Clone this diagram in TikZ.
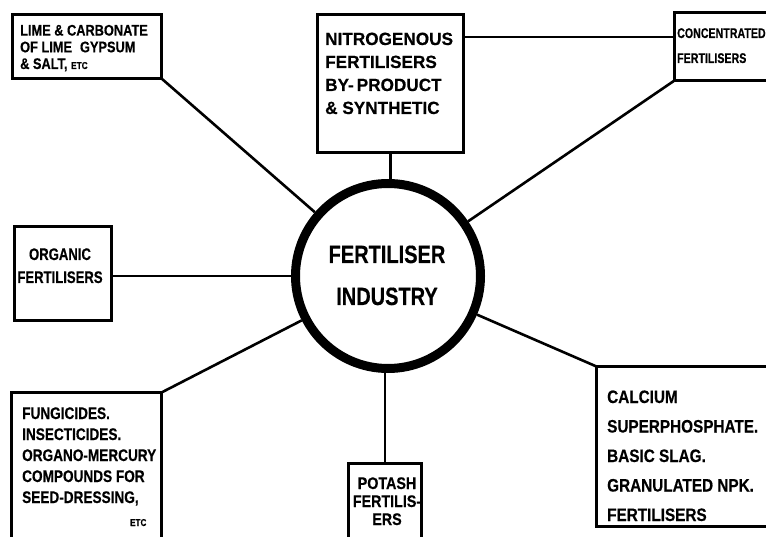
\documentclass[tikz,border=0pt]{standalone}
\usepackage{fontspec}
\setmainfont{Liberation Sans}
\newfontfamily\fa[FakeStretch=0.83,FakeBold=0.4]{Liberation Sans}
\newfontfamily\fb[FakeStretch=0.97,FakeBold=0.4]{Liberation Sans}
\newfontfamily\fc[FakeStretch=0.76,FakeBold=0.4]{Liberation Sans}
\newfontfamily\fd[FakeStretch=0.78,FakeBold=0.4]{Liberation Sans}
\newfontfamily\fe[FakeStretch=0.85,FakeBold=0.4]{Liberation Sans}
\newfontfamily\fg[FakeStretch=0.81,FakeBold=0.4]{Liberation Sans}
\newfontfamily\ff[FakeStretch=0.8,FakeBold=0.4]{Liberation Sans}
\begin{document}
\begin{tikzpicture}[x=1pt,y=-1pt,
  box/.style={draw,line width=3pt,inner sep=0pt,outer sep=0pt},
  link/.style={line width=2.6pt},
  lab/.style={inner sep=0pt,align=left,anchor=base west},
  clab/.style={inner sep=0pt,align=center,anchor=base}]
\useasboundingbox (0,0) rectangle (766,537);
\clip (0,0) rectangle (766,537);
% boxes
\node[box,minimum width=149pt,minimum height=64pt] (lime) at (87,46.5) {};
\node[box,minimum width=146pt,minimum height=138pt] (nitro) at (390.5,83.5) {};
\node[box,minimum width=104pt,minimum height=68pt] (conc) at (726.5,46.5) {};
\node[box,minimum width=97pt,minimum height=94pt] (org) at (63,273.5) {};
\node[box,minimum width=150pt,minimum height=166pt] (fung) at (86.5,475.5) {};
\node[box,minimum width=73pt,minimum height=95pt] (potash) at (385,511) {};
\node[box,minimum width=182pt,minimum height=160pt] (calc) at (687.5,446.5) {};
\node[draw,circle,line width=9pt,minimum size=185pt,inner sep=0pt] (circ) at (388,276) {};
% texts (anchor = baseline of the last line)
\node[lab,font={\fa\bfseries\fontsize{15.4}{16.7}\selectfont}] (limet) at (20,69)
  {LIME \& CARBONATE\\OF LIME\hspace{8pt}GYPSUM\\\& SALT, {\fontsize{10}{10}\selectfont ETC}};
\node[lab,font={\fb\bfseries\fontsize{17.7}{23}\selectfont}] (nitrot) at (325,114)
  {NITROGENOUS\\FERTILISERS\\BY-\,PRODUCT\\\& SYNTHETIC};
\node[lab,font={\fc\bfseries\fontsize{14}{25}\selectfont}] (conct) at (677,63)
  {CONCENTRATED\\FERTILISERS};
\node[clab,font={\fd\bfseries\fontsize{16.8}{23}\selectfont}] (orgt) at (60,283)
  {ORGANIC\\FERTILISERS};
\node[lab,font={\fg\bfseries\fontsize{16.8}{21}\selectfont}] (fungt) at (22,526)
  {FUNGICIDES.\\INSECTICIDES.\\ORGANO-MERCURY\\COMPOUNDS FOR\\SEED-DRESSING,\\[2pt]\hspace*{108pt}{\fontsize{10}{10}\selectfont ETC}};
\node[clab,font={\fe\bfseries\fontsize{16.8}{18}\selectfont}] (potasht) at (387,525)
  {POTASH\\FERTILIS-\\ERS};
\node[lab,font={\fe\bfseries\fontsize{18}{29.5}\selectfont}] (calct) at (607,521)
  {CALCIUM\\SUPERPHOSPHATE.\\BASIC SLAG.\\GRANULATED NPK.\\FERTILISERS};
\node[clab,font={\ff\bfseries\fontsize{25}{42}\selectfont}] (circt) at (387,305)
  {FERTILISER\\INDUSTRY};
% connectors
\coordinate (hl) at (0,37);
\draw[link] (lime.south east) -- (circ);
\draw[link] (nitro.south) -- (nitro.south |- circ.north);
\draw[link] (nitro.east |- hl) -- (conc.west |- hl);
\draw[link] (conc.south west) -- (circ);
\draw[link] (circ.west -| org.east) -- (circ.west);
\draw[link] (fung.north east) -- (circ);
\draw[link] (potash.north) -- (potash.north |- circ.south);
\draw[link] (calc.north west) -- (circ);
\end{tikzpicture}
\end{document}
